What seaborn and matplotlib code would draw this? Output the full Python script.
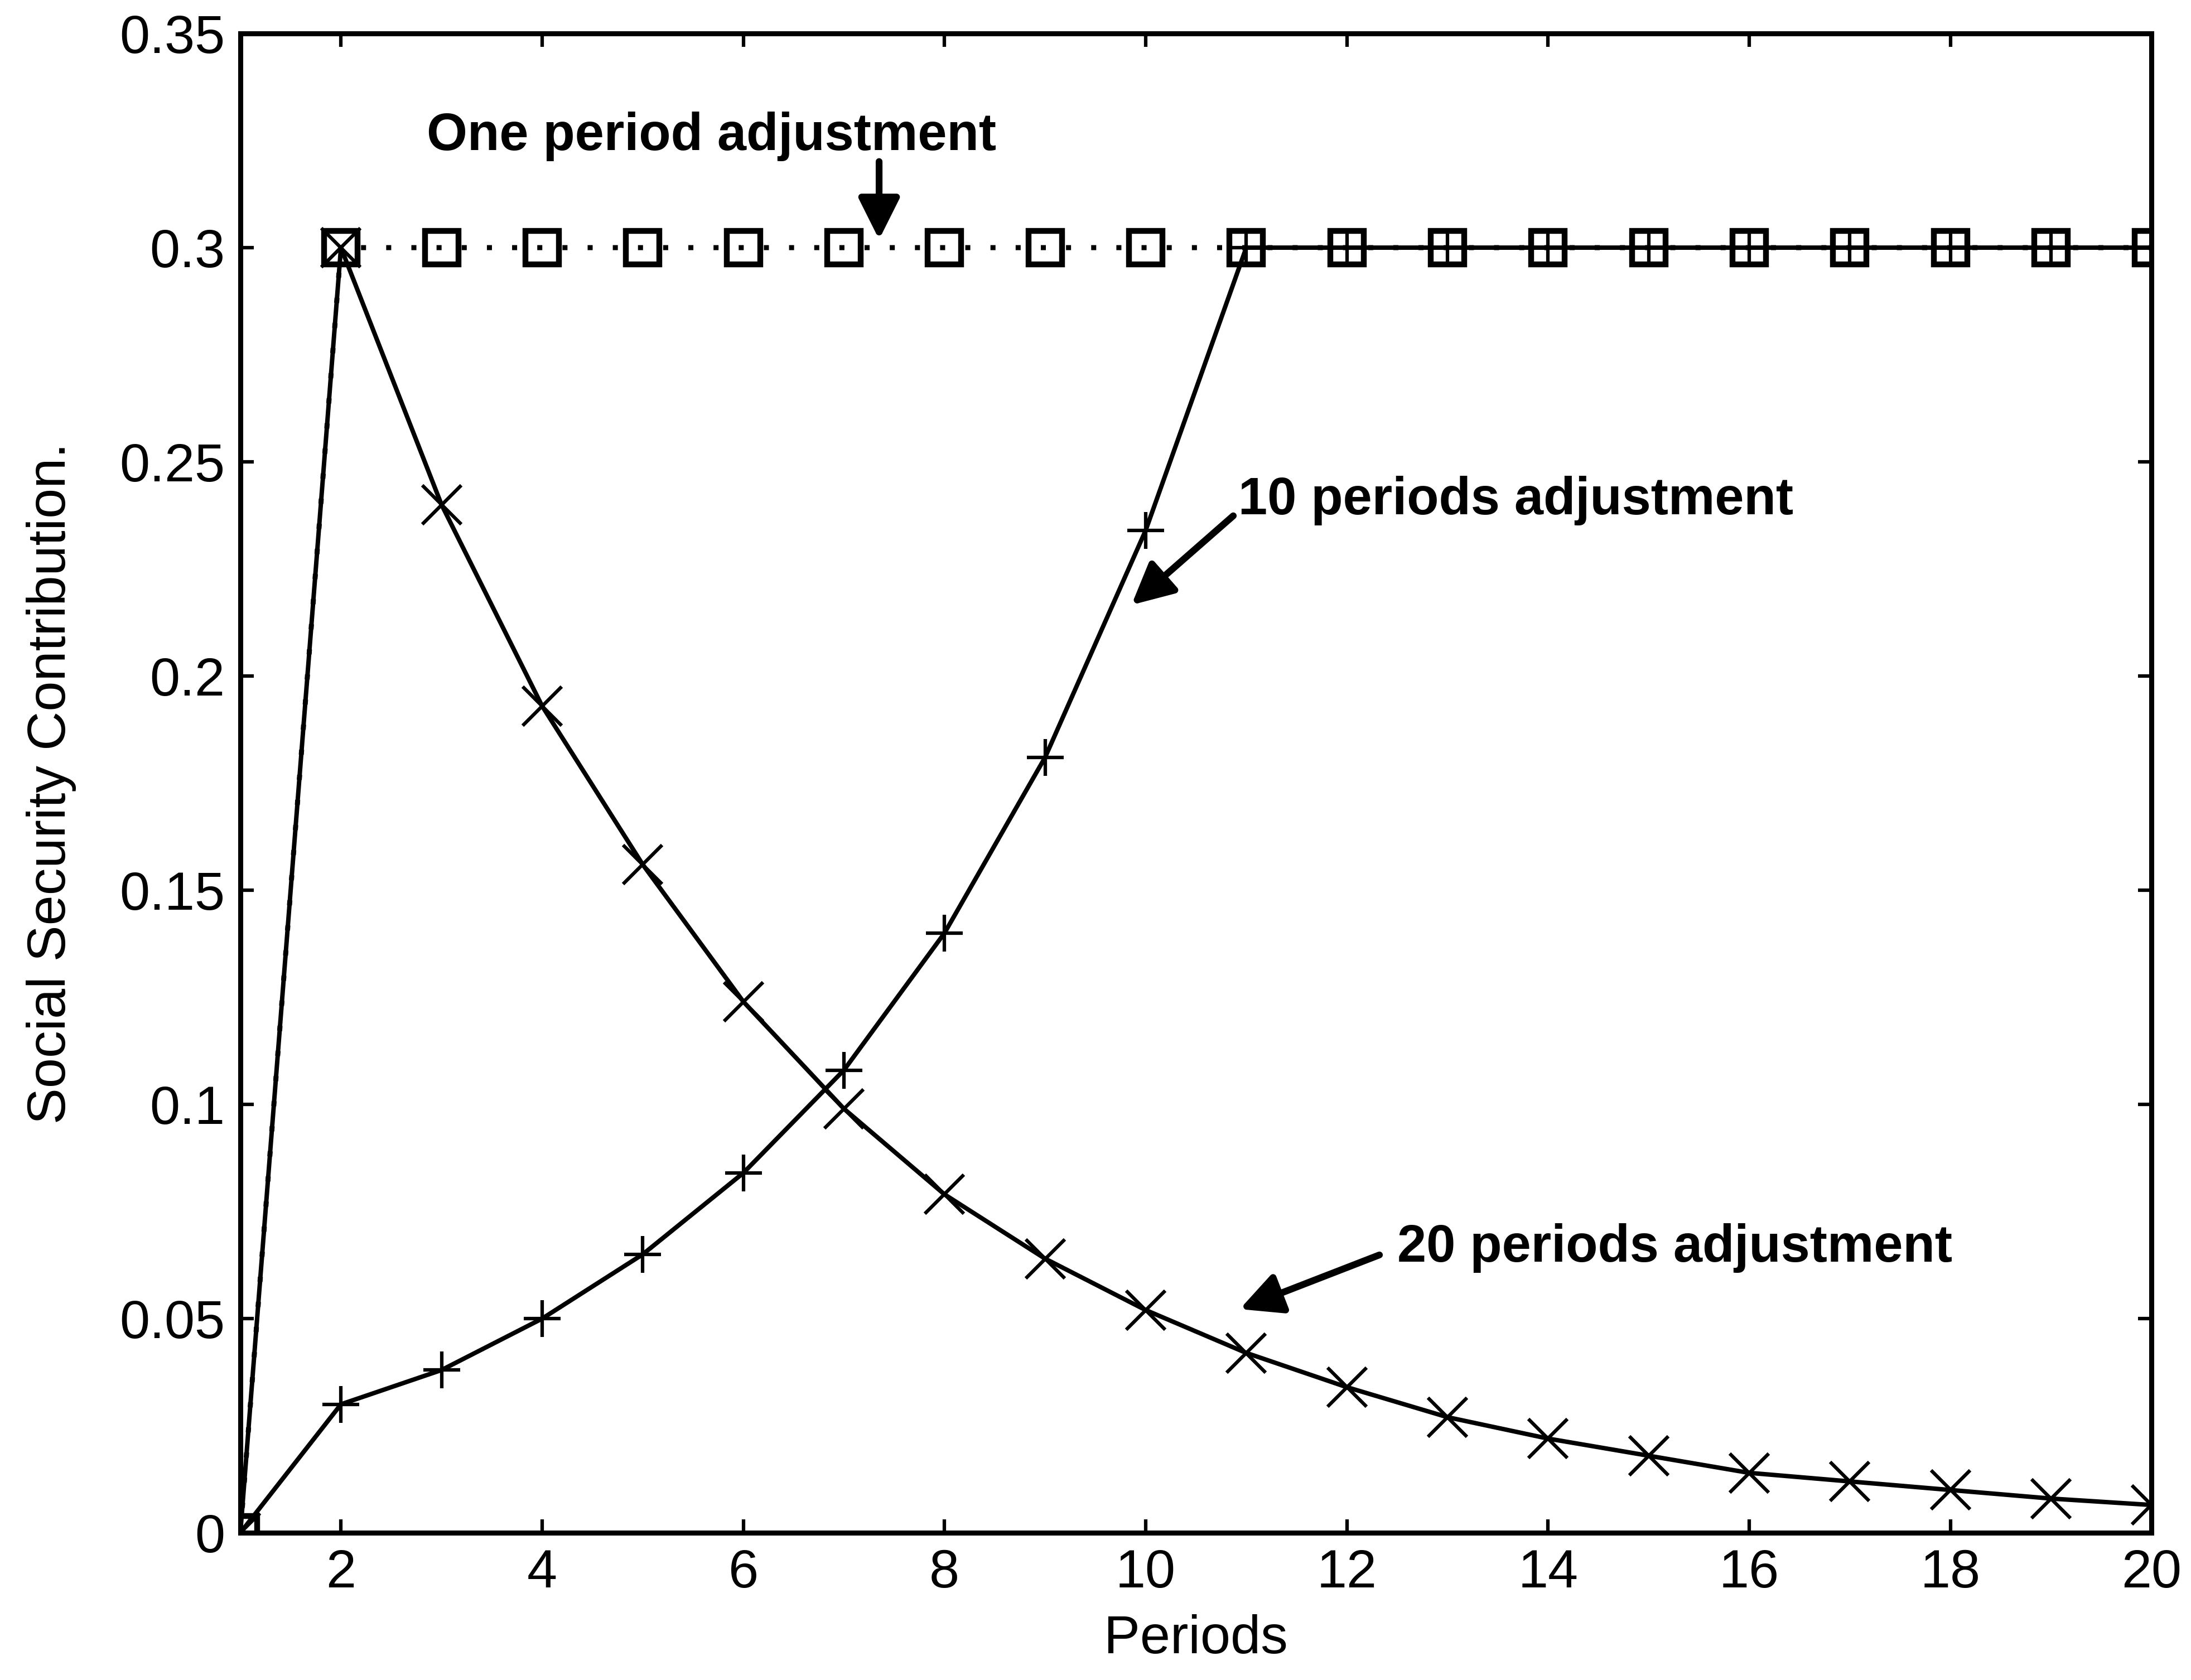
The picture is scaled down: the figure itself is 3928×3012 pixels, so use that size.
import numpy as np
import matplotlib
matplotlib.use("Agg")
import matplotlib.pyplot as plt
import seaborn as sns

# Data
periods = list(range(1, 21))
one_period = [0.0] + [0.30] * 19
ten_periods = [0.0, 0.030, 0.038, 0.050, 0.065, 0.084, 0.108, 0.140, 0.181, 0.234,
               0.300, 0.300, 0.300, 0.300, 0.300, 0.300, 0.300, 0.300, 0.300, 0.300]
twenty_periods = [0.0, 0.300, 0.240, 0.193, 0.156, 0.124, 0.099, 0.079, 0.064, 0.052,
                  0.042, 0.034, 0.027, 0.022, 0.018, 0.014, 0.012, 0.010, 0.008, 0.0065]

x_ticks = list(range(2, 21, 2))
y_ticks = [0, 0.05, 0.1, 0.15, 0.2, 0.25, 0.3, 0.35]
y_tick_labels = ["0", "0.05", "0.1", "0.15", "0.2", "0.25", "0.3", "0.35"]

sns.set_style("ticks")
plt.rcParams['font.family'] = ['Liberation Sans', 'DejaVu Sans']
plt.rcParams['text.color'] = 'black'
plt.rcParams['axes.labelcolor'] = 'black'
plt.rcParams['xtick.color'] = 'black'
plt.rcParams['ytick.color'] = 'black'

fig = plt.figure(figsize=(15.712, 12.048), dpi=250)
ax = fig.add_axes([0.1097, 0.0876, 0.8723, 0.8925])

# one period adjustment: dotted with open squares
sns.lineplot(x=periods, y=one_period, ax=ax, color="black", linestyle=(0, (1, 4)),
             linewidth=2.6, marker="s", markersize=17, markerfacecolor="none",
             markeredgecolor="black", markeredgewidth=3.0)
# 10 periods adjustment: solid with plus
sns.lineplot(x=periods, y=ten_periods, ax=ax, color="black", linewidth=2.3,
             marker="+", markersize=19, markeredgecolor="black", markeredgewidth=1.8)
# 20 periods adjustment: solid with x
sns.lineplot(x=periods, y=twenty_periods, ax=ax, color="black", linewidth=2.3,
             marker="x", markersize=20, markeredgecolor="black", markeredgewidth=1.8)

ax.set_xlim(1, 20)
ax.set_ylim(0, 0.35)
ax.set_xticks(x_ticks)
ax.set_yticks(y_ticks)
ax.set_yticklabels(y_tick_labels)
ax.tick_params(direction="in", length=7, width=1.8, top=True, right=True,
               labelsize=28, pad=8)
for s in ax.spines.values():
    s.set_linewidth(2.6)
    s.set_color("black")

ax.set_xlabel("Periods", fontsize=28, labelpad=8)
ax.set_ylabel("Social Security Contribution.", fontsize=28, labelpad=22)

ann_font = dict(fontsize=27, fontweight="bold", color="black")
arrow = dict(arrowstyle="-|>", color="black", lw=3.5, mutation_scale=45)

ax.annotate("", xy=(7.35, 0.301), xytext=(7.35, 0.321), arrowprops=arrow)
ax.text(2.85, 0.326, "One period adjustment", va="center", ha="left", **ann_font)

ax.annotate("", xy=(9.83, 0.216), xytext=(10.9, 0.238), arrowprops=arrow)
ax.text(10.92, 0.241, "10 periods adjustment", va="center", ha="left", **ann_font)

ax.annotate("", xy=(10.9, 0.0519), xytext=(12.36, 0.0652), arrowprops=arrow)
ax.text(12.5, 0.0665, "20 periods adjustment", va="center", ha="left", **ann_font)

fig.savefig("out.png", dpi=250)
